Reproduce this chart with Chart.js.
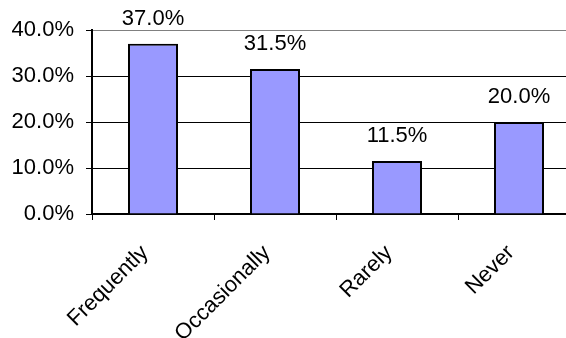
<!DOCTYPE html>
<html>
<head>
<meta charset="utf-8">
<script src="https://cdn.jsdelivr.net/npm/chart.js@4/dist/chart.umd.min.js"></script>
<style>
  html, body { margin: 0; padding: 0; background: #fff; overflow: hidden; }
  #wrap { width: 580px; height: 338px; }
</style>
</head>
<body>
<div id="wrap"><canvas id="ch"></canvas></div>
<script>
// ── Datos ─────────────────────────────────────────────
const categories = ['Frequently', 'Occasionally', 'Rarely', 'Never'];
const values     = [37.0, 31.5, 11.5, 20.0];
const yTicks     = [0, 10, 20, 30, 40];

const FONT = { family: 'Arial, "Liberation Sans", sans-serif', size: 22 };

// etiquetas de valor encima de cada barra
const valueLabels = {
    id: 'valueLabels',
    afterDatasetsDraw(chart) {
        const ctx = chart.ctx;
        const meta = chart.getDatasetMeta(0);
        ctx.save();
        ctx.font = `${FONT.size}px ${FONT.family}`;
        ctx.fillStyle = '#000';
        ctx.textAlign = 'center';
        ctx.textBaseline = 'alphabetic';
        meta.data.forEach((bar, i) => {
            ctx.fillText(values[i].toFixed(1) + '%', bar.x, bar.y - 19);
        });
        ctx.restore();
    },
};

new Chart(document.getElementById('ch').getContext('2d'), {
    type: 'bar',
    data: {
        labels: categories,
        datasets: [{
            data: values,
            backgroundColor: '#9999ff',
            borderColor: '#000',
            borderWidth: 2,
            barPercentage: 0.41,
            categoryPercentage: 1,
        }],
    },
    options: {
        responsive: true, maintainAspectRatio: false, animation: false,
        layout: { padding: { top: 30, left: 0, right: 0, bottom: 0 } },
        plugins: { legend: { display: false }, tooltip: { enabled: false } },
        scales: {
            x: {
                offset: true,
                grid: { offset: true, drawOnChartArea: false, drawTicks: true, tickLength: 6, color: '#000', lineWidth: 1 },
                border: { color: '#000', width: 2 },
                ticks: { color: '#000', font: FONT, maxRotation: 45, minRotation: 45, padding: 20, labelOffset: -8 },
                afterFit: s => { s.height = 124; },
            },
            y: {
                min: 0, max: 40,
                afterBuildTicks: s => { s.ticks = yTicks.map(v => ({ value: v })); },
                grid: {
                    color: c => c.tick && c.tick.value === 40 ? '#808080' : (c.tick && c.tick.value === 0 ? 'rgba(0,0,0,0)' : '#000'),
                    tickColor: '#000', tickLength: 6, lineWidth: 1,
                },
                border: { color: '#000', width: 2 },
                ticks: { color: '#000', font: FONT, padding: 12, callback: v => v.toFixed(1) + '%' },
                afterFit: s => { s.width = 92; },
            },
        },
    },
    plugins: [valueLabels],
});
</script>
</body>
</html>
